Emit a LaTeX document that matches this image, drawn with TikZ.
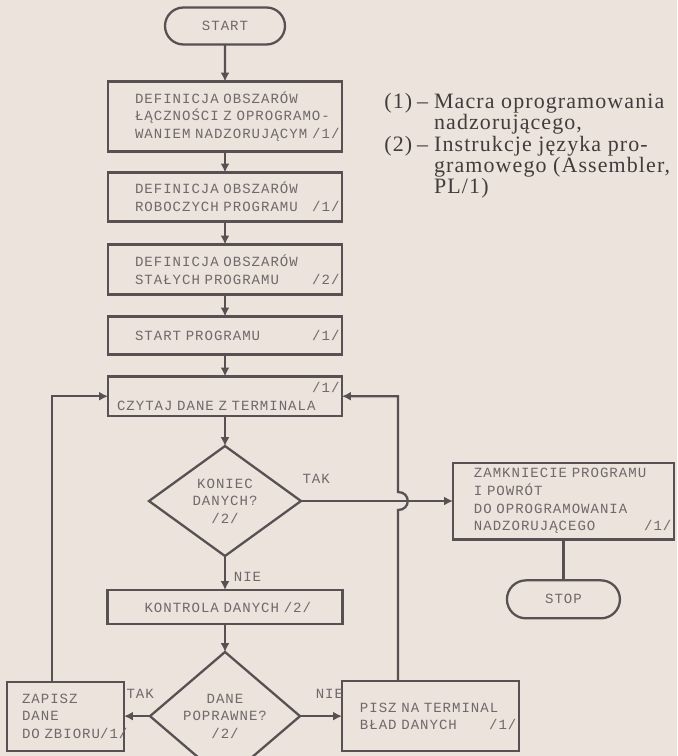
\documentclass[tikz,border=0pt]{standalone}
\usepackage{fontspec}
\usepackage{xcolor}
\usetikzlibrary{positioning,shapes.geometric,shapes.misc,arrows.meta,calc}
\newfontfamily\druk[LetterSpace=7]{Liberation Mono}
\newfontfamily\opis[LetterSpace=5]{Liberation Serif}
\definecolor{papier}{RGB}{236,227,220}
\definecolor{tusz}{RGB}{88,80,82}
\definecolor{szary}{RGB}{112,104,106}

\begin{document}
\begin{tikzpicture}[x=0.02cm,y=-0.02cm,
  linia/.style={draw=tusz,line width=1.3pt},
  strz/.style={linia,-{Latex[length=5pt,width=5pt]}},
  pismo/.style={font=\druk\fontsize{8}{10}\selectfont,text=szary},
  blok/.style={linia,pismo,rectangle,outer sep=0pt,align=left,inner xsep=0.05cm,
    text width=4.58cm,execute at begin node={\leftskip=#1}},
  blok/.default=0.49cm,
  term/.style={linia,pismo,rounded rectangle,outer sep=0pt,inner sep=0pt},
  romb/.style={linia,pismo,diamond,outer sep=0pt,align=center,inner sep=0pt},
  napis/.style={pismo,inner sep=1pt}]
  \useasboundingbox (0,0) rectangle (677,756);
  \fill[papier] (0,0) rectangle (677,756);

  % glowna kolumna
  \node[term,minimum width=2.4cm,minimum height=0.74cm] (start) at (225,26) {START};
  \node[blok,minimum height=1.4cm,below=0.74cm of start] (b1)
    {DEFINICJA OBSZARÓW\\ŁĄCZNOŚCI Z OPROGRAMO-\\WANIEM NADZORUJĄCYM\hfill/1/};
  \node[blok,minimum height=0.98cm,below=0.42cm of b1] (b2)
    {DEFINICJA OBSZARÓW\\ROBOCZYCH PROGRAMU\hfill/1/};
  \node[blok,minimum height=1cm,below=0.46cm of b2] (b3)
    {DEFINICJA OBSZARÓW\\STAŁYCH PROGRAMU\hfill/2/};
  \node[blok,minimum height=0.76cm,below=0.44cm of b3] (b4)
    {START PROGRAMU\hfill/1/};
  \node[blok=0.13cm,minimum height=0.72cm,below=0.44cm of b4] (b5)
    {\hfill/1/\\CZYTAJ DANE Z TERMINALA};
  \node[romb,minimum width=3.04cm,minimum height=2.2cm,below=0.6cm of b5] (d1)
    {KONIEC\\DANYCH?\\/2/};
  \node[blok=0.69cm,minimum height=0.68cm,text width=4.6cm,
    below=0.68cm of d1] (b6) {KONTROLA DANYCH /2/};
  \node[romb,minimum width=3cm,minimum height=2.28cm,below=0.56cm of b6] (d2)
    {DANE\\POPRAWNE?\\/2/};

  % boczne bloki
  \node[blok=0.37cm,minimum height=1.48cm,text width=4.32cm,
    right=3.04cm of d1] (zam)
    {ZAMKNIECIE PROGRAMU\\I POWRÓT\\DO OPROGRAMOWANIA\\NADZORUJĄCEGO\hfill/1/};
  \node[term,minimum width=2.26cm,minimum height=0.76cm,below=0.82cm of zam] (stop) {STOP};
  \node[blok=0.25cm,minimum height=1.38cm,text width=2.24cm,
    left=0.52cm of d2] (zap) {ZAPISZ\\DANE\\DO ZBIORU\rlap{/1/}};
  \node[blok=0.31cm,minimum height=1.4cm,text width=3.44cm,
    right=0.84cm of d2] (pisz) {PISZ NA TERMINAL\\BŁAD DANYCH\hfill/1/};

  % legenda
  \node[anchor=north west,inner sep=0pt,text=tusz!75!black,
    font=\opis\fontsize{12.5}{11.6}\selectfont] (legenda) at (384,93)
    {\begin{tabular}{@{}l@{\hspace{0.1cm}}l@{\hspace{0.12cm}}l@{}}
      (1) & \textendash & Macra oprogramowania\\
          &    & nadzorującego,\\
      (2) & \textendash & Instrukcje języka pro-\\
          &    & gramowego (Assembler,\\
          &    & PL/1)
    \end{tabular}};

  % polaczenia
  \foreach \a/\b in {start/b1,b1/b2,b2/b3,b3/b4,b4/b5,b5/d1,b6/d2}
    \draw[strz] (\a) -- (\b);
  \draw[strz] (d1) -- node[napis,pos=0.6,right=0.12cm] {NIE} (b6);
  \draw[strz] (d1.east) -- node[napis,pos=0.1,above=0.3cm] {TAK} (zam.west);
  \draw[linia] (zam.south) -- (stop.north);
  \draw[strz] (d2.west) -- node[napis,pos=0.38,above=0.3cm] {TAK} (zap.east);
  \draw[strz] (d2.east) -- node[napis,pos=0.7,above=0.3cm] {NIE} (pisz.west);

  % petle powrotne
  \coordinate (xhop) at (398,0);
  \coordinate (xzap) at (52,0);
  \coordinate (hop) at (d1.east -| xhop);
  \draw[strz] (pisz.north -| xhop) -- ($(hop)+(0,9)$)
    .. controls ($(hop)+(13,9)$) and ($(hop)+(13,-9)$) .. ($(hop)+(0,-9)$)
    |- (b5.east);
  \draw[strz] (zap.north -| xzap) |- (b5.west);
\end{tikzpicture}
\end{document}
